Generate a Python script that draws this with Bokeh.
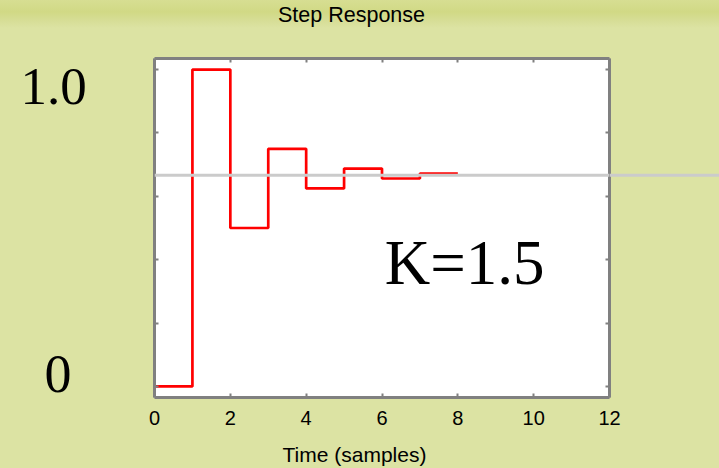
from bokeh.plotting import figure
from bokeh.layouts import row, column
from bokeh.models import (LinearAxis, FixedTicker, Label, Span, Range1d,
                          GlobalInlineStyleSheet)
from bokeh.embed import file_html
from bokeh.resources import INLINE

# ---- data ----
samples = [0, 1, 2, 3, 4, 5, 6, 7, 8]
response = [0.0, 1.0, 0.5, 0.75, 0.625, 0.6875, 0.65625, 0.671875, 0.671875]
steady_state = 0.6667
x_ticks = [0, 2, 4, 6, 8, 10, 12]
y_ticks = [0.0, 0.2, 0.4, 0.6, 0.8, 1.0]
title_text = "Step Response"
xlabel_text = "Time (samples)"
gain_text = "K=1.5"
y_top_text = "1.0"
y_bottom_text = "0"

BG = "#dce3a3"
AXIS = "#808080"
REF = "#cbcbcb"
TITLE_H, XLABEL_H = 30, 25
ROW_H = 468 - TITLE_H - XLABEL_H
TOP, BOTTOM = 58 - TITLE_H, 71 - XLABEL_H

y_range = Range1d(-0.035, 1.035)

def plain_fig(width, height, x_range, y_range, **kw):
    f = figure(width=width, height=height, output_backend="svg", toolbar_location=None,
               x_range=x_range, y_range=y_range,
               x_axis_location=None, y_axis_location=None, **kw)
    f.border_fill_color = BG
    f.background_fill_color = BG
    f.outline_line_color = None
    f.xgrid.visible = False
    f.ygrid.visible = False
    return f

def text_label(fig, x, y, text, font, size, align="left"):
    fig.add_layout(Label(x=x, y=y, text=text, text_font=font, text_font_size=size,
                         text_color="black", text_align=align, text_baseline="alphabetic"))

# ---- title strip (data units = page pixels), with the slide's shaded top band ----
title_fig = plain_fig(719, TITLE_H, Range1d(0, 719), Range1d(TITLE_H, 0), min_border=0)
title_fig.background_fill_alpha = 0
title_fig.border_fill_alpha = 0
title_fig.styles = {"background": "linear-gradient(to bottom, #d7de92 0px, #d1d985 12px, "
                                  "#d6dd95 20px, #dce3a3 28px)"}
text_label(title_fig, 351, 14, title_text, "Liberation Sans", "21.5px", "center")

# ---- left strip with the big y labels ----
left_fig = plain_fig(142, ROW_H, Range1d(0, 142), y_range, min_border_left=0,
                     min_border_right=0, min_border_top=TOP, min_border_bottom=BOTTOM)
text_label(left_fig, 20, 0.946, y_top_text, "Liberation Serif", "53px")
text_label(left_fig, 44, 0.0379, y_bottom_text, "Liberation Serif", "54px")

# ---- main plot ----
p = plain_fig(481, ROW_H, Range1d(0, 12), y_range, min_border_left=12,
              min_border_right=14, min_border_top=TOP, min_border_bottom=BOTTOM)
p.background_fill_color = "white"

def style_axis(ax, show_labels):
    ax.axis_line_color = AXIS
    ax.axis_line_width = 3
    ax.major_tick_in = 4
    ax.major_tick_out = 0
    ax.minor_tick_in = 0
    ax.minor_tick_out = 0
    ax.major_tick_line_color = AXIS
    ax.major_tick_line_width = 2
    ax.minor_tick_line_color = None
    if show_labels:
        ax.major_label_text_font = "Liberation Sans"
        ax.major_label_text_font_size = "20px"
        ax.major_label_text_color = "black"
        ax.major_label_standoff = 13
    else:
        ax.major_label_standoff = 0
    return ax

p.add_layout(style_axis(LinearAxis(ticker=FixedTicker(ticks=x_ticks)), True), "below")
p.add_layout(style_axis(LinearAxis(ticker=FixedTicker(ticks=x_ticks),
                                   major_label_overrides={t: "" for t in x_ticks}), False), "above")
p.add_layout(style_axis(LinearAxis(ticker=FixedTicker(ticks=y_ticks),
                                   major_label_overrides={t: "" for t in y_ticks}), False), "left")
p.add_layout(style_axis(LinearAxis(ticker=FixedTicker(ticks=y_ticks),
                                   major_label_overrides={t: "" for t in y_ticks}), False), "right")

p.step(samples, response, mode="after", line_color="#ff0000", line_width=2.7)
p.add_layout(Span(location=steady_state, dimension="width", line_color=REF, line_width=3))
text_label(p, 6.07, 0.388, gain_text, "Liberation Serif", "63px")

# ---- right strip: reference line continues past the plot ----
right_fig = plain_fig(110, ROW_H, Range1d(0, 1), y_range, min_border_left=0,
                      min_border_right=0, min_border_top=TOP, min_border_bottom=BOTTOM)
right_fig.background_fill_alpha = 0
right_fig.border_fill_alpha = 0
right_fig.styles = {"margin-left": "-14px"}
right_fig.add_layout(Span(location=steady_state, dimension="width", line_color=REF, line_width=3))

# ---- x-axis title strip (data units = page pixels) ----
xlabel_fig = plain_fig(719, XLABEL_H, Range1d(0, 719), Range1d(468, 468 - XLABEL_H), min_border=0)
text_label(xlabel_fig, 282, 454, xlabel_text, "Liberation Sans", "21px")

layout = column(title_fig, row(left_fig, p, right_fig, spacing=0), xlabel_fig, spacing=0)
layout.stylesheets = [GlobalInlineStyleSheet(css="body { background-color: %s; }" % BG)]

open("out.html", "w").write(file_html(layout, INLINE))
